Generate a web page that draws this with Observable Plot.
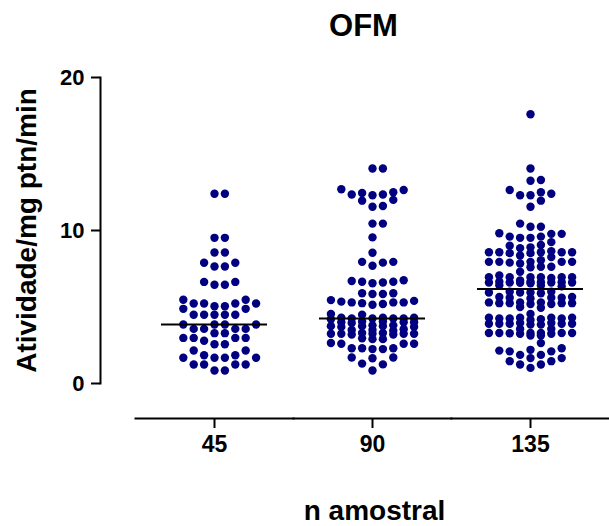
<!DOCTYPE html>
<html>
<head>
<meta charset="utf-8">
<script src="https://cdn.jsdelivr.net/npm/d3@7"></script>
<script src="https://cdn.jsdelivr.net/npm/@observablehq/plot@0.6"></script>
<style>
  html, body { margin: 0; padding: 0; background: #fff; }
  #chart svg { display: block; }
</style>
</head>
<body>
<div id="chart"></div>
<script>
// Group (tick) labels
const groups = ["45", "90", "135"];
const yTicks = [0, 10, 20];

// Values (Atividade/mg ptn/min)
const g45 = [
  12.4, 12.4, 9.52, 9.52, 8.56, 8.56, 7.89, 7.89, 7.65, 7.65,
  6.64, 6.64, 6.45, 6.45, 5.47, 5.47, 5.23, 5.23, 5.23, 5.23,
  5.05, 5.05, 4.88, 4.88, 4.49, 4.49, 4.49, 4.49, 4.49,
  3.86, 3.86, 3.86, 3.86, 3.57, 3.57, 3.57, 3.57, 3.29, 3.29,
  2.98, 2.98, 2.98, 2.98, 2.79, 2.57, 2.57, 2.16, 2.16, 1.85, 1.85,
  1.68, 1.68, 1.68, 1.68, 1.24, 1.24, 1.24, 1.24, 0.85, 0.85
];
const g90 = [
  14.05, 14.05, 12.7, 12.65, 12.5, 12.45, 12.35, 12.35, 12.3, 12.0, 11.95,
  11.6, 11.55, 10.45, 10.45, 9.55, 8.55, 7.95, 7.95, 7.9, 7.7,
  6.75, 6.55, 6.65, 6.65, 6.6, 6.7,
  5.9, 5.85, 5.85, 5.9,
  5.45, 5.4, 5.35, 5.3, 5.3, 5.25, 5.2, 5.15, 5.3,
  4.55, 4.5,
  4.3, 4.3, 4.25, 4.25, 4.25, 4.2, 4.25, 4.3,
  4.05, 4.0, 4.0, 3.95, 4.05, 4.0,
  3.8, 3.75, 3.75, 3.7, 3.8, 3.75, 3.7,
  3.5, 3.55, 3.5, 3.45,
  3.25, 3.25, 3.2, 3.25, 3.3, 3.25, 3.2, 3.25, 3.3,
  2.9, 2.95, 2.9,
  2.6, 2.65, 2.6, 2.6,
  2.3, 2.25, 2.3, 2.25, 2.3,
  1.7, 1.65, 1.7,
  1.3, 1.25,
  0.85
];
const g135 = [
  17.6, 14.05, 13.3, 13.25, 12.65, 12.5, 12.4, 12.3, 12.3, 11.95, 11.55,
  10.45, 10.25, 10.25,
  9.82, 9.78, 9.78, 9.6, 9.6, 9.52, 9.52,
  9.24,
  9.05, 9.0, 8.9, 8.85,
  8.65, 8.58, 8.58, 8.58, 8.58, 8.58, 8.52, 8.52, 8.37, 8.26,
  8.06, 7.95, 7.95, 7.95, 7.95, 7.95, 7.9, 7.84, 7.6, 7.63, 7.63, 7.3,
  7.06, 6.95, 6.95, 6.95, 6.95, 6.95, 6.95, 6.9, 6.73,
  6.65, 6.6, 6.62, 6.6, 6.65, 6.6, 6.62, 6.58, 6.6, 6.55,
  6.4, 6.42, 6.35,
  6.0, 5.95, 5.95, 6.0, 5.9, 5.95,
  5.65, 5.6, 5.65, 5.6, 5.55, 5.6,
  5.3, 5.25, 5.25, 5.2, 5.3, 5.25, 5.2, 5.25, 5.3,
  5.0, 4.95,
  4.55,
  4.3, 4.3, 4.25, 4.3, 4.25, 4.2, 4.15, 4.3, 4.25,
  3.9, 3.95, 3.9, 3.85, 3.9, 3.9, 3.95, 3.9, 3.85,
  3.57, 3.57,
  3.3, 3.3, 3.25, 3.3, 3.3, 3.25, 3.3, 3.3, 3.28,
  3.14, 3.14,
  2.64,
  2.3, 2.2, 2.1, 2.1, 2.15,
  1.87, 1.87, 1.66, 1.66, 1.46, 1.46, 1.24, 1.24, 1.02
];

const title = "OFM";
const xLabel = "n amostral";
const yLabel = "Atividade/mg ptn/min";

const series = {"45": g45, "90": g90, "135": g135};

// Prism-style scatter layout: each value takes the grid column nearest the
// centre that is free of close values; when the width is full, the least
// crowded column is used (dots then overlap, as in the original).
const colOrder = [0, 1, -1, 2, -2, 3, -3, 4, -4];
const near = 0.5; // value distance treated as a collision
function prismColumns(values) {
  const placed = new Map(colOrder.map(c => [c, []]));
  return values.slice().sort((a, b) => a - b).map(v => {
    let best = null, bestGap = -1;
    for (const c of colOrder) {
      const gap = d3.min(placed.get(c), u => Math.abs(u - v)) ?? Infinity;
      if (gap >= near) { best = c; break; }
      if (gap > bestGap + 1e-9) { bestGap = gap; best = c; }
    }
    placed.get(best).push(v);
    return {value: v, col: best};
  });
}

const data = groups.flatMap(g =>
  prismColumns(series[g]).map(d => ({group: g, value: d.value, col: d.col}))
);

const font = "'Liberation Sans', Arial, Helvetica, sans-serif";
const navy = "#000080";

const chart = Plot.plot({
  width: 609,
  height: 526,
  marginLeft: 135,
  marginRight: 0,
  marginTop: 77,
  marginBottom: 143,
  style: {fontFamily: font, fontWeight: "bold", background: "#fff", color: "#000"},
  fx: {domain: groups, padding: 0, axis: null, label: null},
  x: {domain: [-7.6, 7.6], axis: null, label: null},
  y: {domain: [0, 20], axis: null, label: null},
  marks: [
    // y axis (offset to the left, Prism style)
    Plot.frame({anchor: "left", dx: -35, strokeWidth: 2, stroke: "#000", facetAnchor: "left"}),
    Plot.axisY(yTicks, {anchor: "left", dx: -35, tickSize: 9, tickPadding: 7, fontSize: 22,
      fontWeight: "bold", strokeWidth: 2, label: null, tickFormat: d => String(d)}),
    // x axis (offset below)
    Plot.frame({anchor: "bottom", dy: 35, strokeWidth: 2, stroke: "#000"}),
    Plot.axisFx({anchor: "bottom", dy: 35, tickSize: 10, tickPadding: 7, fontSize: 23,
      fontWeight: "bold", strokeWidth: 2, label: null}),
    // points
    Plot.dot(data, {fx: "group", x: "col", y: "value", r: 4.2, fill: navy, stroke: null}),
    // medians
    Plot.tickY(data, Plot.groupZ({y: "median"},
      {fx: "group", y: "value", insetLeft: 26, insetRight: 26, stroke: "#000", strokeWidth: 2})),
    // title and axis labels
    Plot.text([{group: "90", t: title}], {fx: "group", text: "t", frameAnchor: "top",
      lineAnchor: "middle", dy: -51, dx: -9, fontSize: 31, fontWeight: "bold", fill: "#000"}),
    Plot.text([{group: "90", t: xLabel}], {fx: "group", text: "t", frameAnchor: "bottom",
      lineAnchor: "middle", dy: 128, dx: 2, fontSize: 28, fontWeight: "bold", fill: "#000"}),
    Plot.text([{group: "45", t: yLabel}], {fx: "group", text: "t", frameAnchor: "left",
      textAnchor: "middle", lineAnchor: "middle", dx: -108, rotate: -90, fontSize: 28,
      fontWeight: "bold", fill: "#000"})
  ]
});

document.getElementById("chart").appendChild(chart);
</script>
</body>
</html>
